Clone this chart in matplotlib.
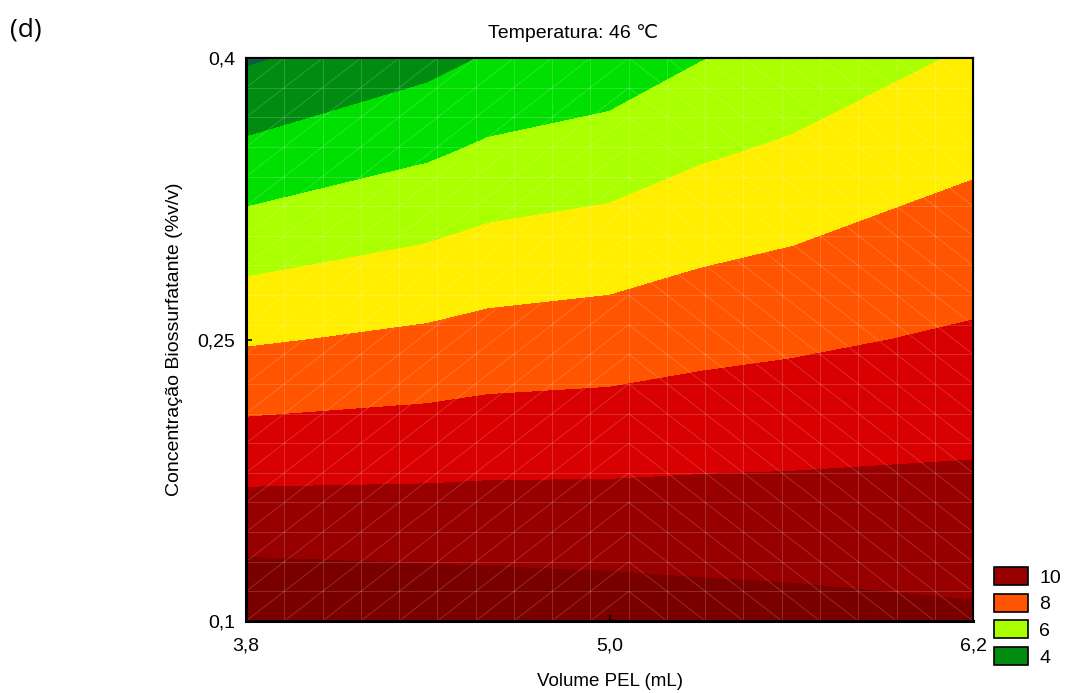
import numpy as np
import matplotlib.pyplot as plt
from matplotlib.collections import LineCollection
from matplotlib.patches import Patch

plt.rcParams['font.family'] = ['Liberation Sans', 'DejaVu Sans']

# grid
volume = [3.8, 4.4, 4.6, 5.0, 5.3, 5.6, 6.2]
conc = [0.10, 0.15, 0.20, 0.25, 0.30, 0.35, 0.40]
# rows = conc, cols = volume
resp = [
    [10.91, 10.71, 10.64, 10.54, 10.42, 10.34, 10.15],
    [9.57, 9.54, 9.54, 9.52, 9.51, 9.50, 9.48],
    [8.23, 8.37, 8.45, 8.50, 8.60, 8.66, 8.81],
    [6.89, 7.20, 7.36, 7.48, 7.69, 7.83, 8.14],
    [5.55, 6.03, 6.26, 6.46, 6.78, 6.99, 7.47],
    [4.21, 4.86, 5.17, 5.44, 5.87, 6.15, 6.80],
    [2.87, 3.69, 4.07, 4.42, 4.96, 5.31, 6.13],
]
levels = [0, 3, 4, 5, 6, 7, 8, 9, 10, 20]
colors = ['#0b5e43', '#008c10', '#00e000', '#aaff00', '#ffee00',
          '#ff5500', '#d80000', '#980000', '#7a0000']
legend_labels = ['10', '8', '6', '4']
legend_colors = ['#980000', '#ff5500', '#aaff00', '#008c10']

fig = plt.figure(figsize=(10.66, 6.93), dpi=100)
ax = fig.add_axes([0.2308, 0.1039, 0.682, 0.8124])

X, Y = np.meshgrid(volume, conc)
ax.contourf(X, Y, np.array(resp), levels=levels, colors=colors)

# faint triangulated mesh like the original software draws
g = np.linspace(0, 1, 20)
segs = []
for v in g:
    segs.append([(v, 0), (v, 1)])
    segs.append([(0, v), (1, v)])
for i in range(19):
    for j in range(19):
        if i < 10:
            segs.append([(g[i], g[j]), (g[i + 1], g[j + 1])])
        else:
            segs.append([(g[i], g[j + 1]), (g[i + 1], g[j])])
ax.add_collection(LineCollection(segs, colors='white', linewidths=0.6,
                                 alpha=0.2, transform=ax.transAxes))

ax.set_xlim(3.8, 6.2)
ax.set_ylim(0.1, 0.4)
ax.set_xticks([3.8, 5.0, 6.2])
ax.set_xticklabels(['3,8', '5,0', '6,2'])
ax.set_yticks([0.1, 0.25, 0.4])
ax.set_yticklabels(['0,1', '0,25', '0,4'])
ax.tick_params(direction='in', length=4, width=1.2, labelsize=14)
ax.tick_params(axis='x', pad=12)
ax.tick_params(axis='y', pad=8)

top = ax.secondary_xaxis('top')
top.set_xticks(np.arange(3.8, 6.21, 0.2))
top.tick_params(direction='in', length=5, width=1.2, labeltop=False)
right = ax.secondary_yaxis('right')
right.set_yticks(np.arange(0.1, 0.401, 0.025))
right.tick_params(direction='in', length=5, width=1.2, labelright=False)

for s in ['left', 'bottom']:
    ax.spines[s].set_linewidth(2.2)
for s in ['top', 'right']:
    ax.spines[s].set_linewidth(1.5)
top.spines['top'].set_linewidth(1.5)
right.spines['right'].set_linewidth(1.5)

ax.set_xlabel('Volume PEL (mL)', fontsize=13.5, labelpad=13)
ax.set_ylabel('Concentração Biossurfatante (%v/v)', fontsize=14, labelpad=10)
fig.text(0.5375, 0.952, 'Temperatura: 46 ℃', fontsize=14, ha='center', va='center')
fig.text(0.009, 0.957, '(d)', fontsize=19, ha='left', va='center',
         family=['Open Sans', 'DejaVu Sans'])

handles = [Patch(facecolor=c, edgecolor='black', linewidth=1.2) for c in legend_colors]
fig.legend(handles, legend_labels, loc='lower left',
           bbox_to_anchor=(0.923, 0.024), frameon=False, fontsize=14,
           handlelength=1.75, handleheight=1.05, labelspacing=0.36,
           handletextpad=0.6, borderpad=0)

fig.savefig('out.png', dpi=100)
